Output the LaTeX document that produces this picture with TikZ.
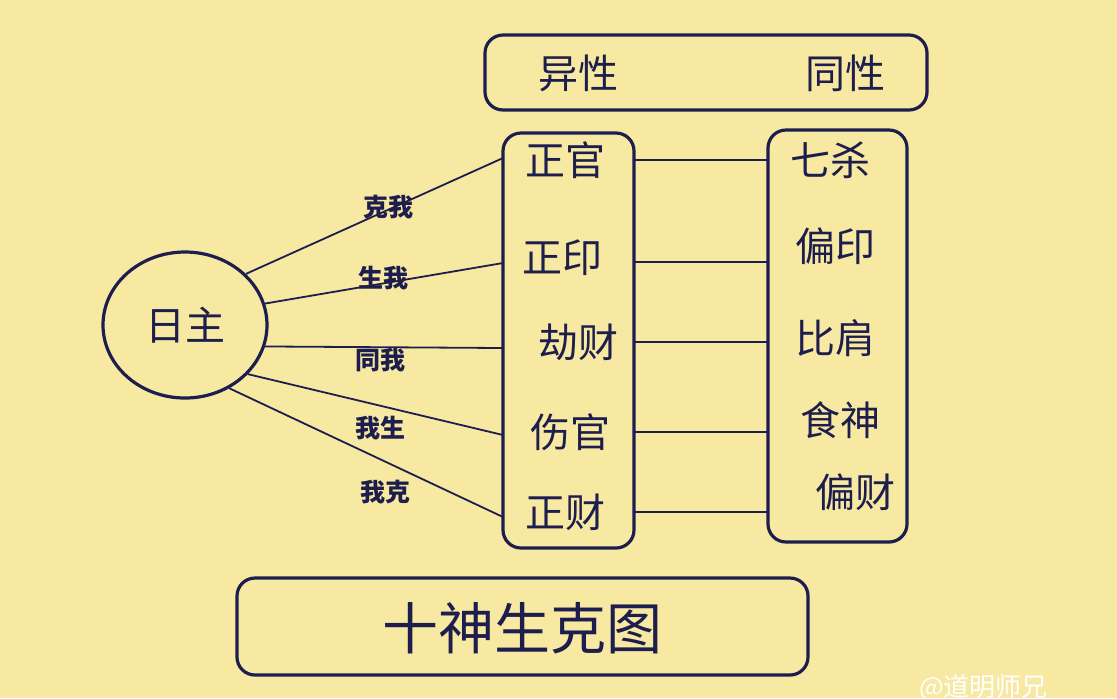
\documentclass[tikz,border=0pt]{standalone}
\usepackage{fontspec}
\newfontfamily\cjk{Noto Sans CJK SC}
\usetikzlibrary{shapes.geometric}
\definecolor{bgyellow}{HTML}{F7E9A2}
\definecolor{ink}{HTML}{1E1E4E}
\tikzset{
  box/.style={draw=ink, line width=1.6pt, rounded corners=9pt},
  god/.style={text=ink, font=\cjk\fontsize{20}{20}\selectfont},
  rel/.style={text=ink, font=\cjk\bfseries\fontsize{12.5}{13}\selectfont},
  link/.style={draw=ink, line width=0.9pt}
}
\begin{document}
\begin{tikzpicture}[x=0.5pt,y=-0.5pt]
    \fill[bgyellow] (0,0) rectangle (1117,698);
    \useasboundingbox (0,0) rectangle (1117,698);
    % top box
    \draw[box] (485,35) rectangle (927,110);
    \node[god] (yi) at (578,73) {异性};
    \node[god] (tong) at (845,73) {同性};
    % columns
    \draw[box] (503,133) rectangle (634,548);
    \draw[box] (768,130) rectangle (907,542);
    \node[god] (zg) at (565,160) {正官};
    \node[god] (zy) at (562,258) {正印};
    \node[god] (jc) at (578,342) {劫财};
    \node[god] (sg) at (570,432) {伤官};
    \node[god] (zc) at (565,512) {正财};
    \node[god] (qs) at (830,160) {七杀};
    \node[god] (py) at (835,246) {偏印};
    \node[god] (bj) at (835,338) {比肩};
    \node[god] (ss) at (840,420) {食神};
    \node[god] (pc) at (855,492) {偏财};
    % day master
    \node[ellipse, draw=ink, line width=1.6pt, minimum width=82pt, minimum height=73pt,
          god] (rz) at (185,325) {日主};
    \foreach \n/\y in {a/158,b/263,c/348,d/435,e/517} {
      \coordinate (L\n) at (503,\y);
    }
    \foreach \n/\y in {a/160,b/262,c/342,d/432,e/512} {
      \coordinate (M\n) at (634,\y);
      \coordinate (R\n) at (768,\y);
      \draw[link] (M\n) -- (R\n);
    }
    \draw[link] (rz.40) -- (La);
    \draw[link] (rz.15) -- (Lb);
    \draw[link] (rz.-15) -- (Lc);
    \draw[link] (rz.-38) -- (Ld);
    \draw[link] (rz.-55) -- (Le);
    \node[rel] (ka) at (388,207) {克我};
    \node[rel] (kb) at (383,278) {生我};
    \node[rel] (kc) at (380,360) {同我};
    \node[rel] (kd) at (380,428) {我生};
    \node[rel] (ke) at (385,492) {我克};
    % title
    \draw[box] (237,578) rectangle (808,675);
    \node[text=ink, font=\cjk\fontsize{28}{28}\selectfont] (title) at (522,628) {十神生克图};
    \node[text=white, font=\cjk\fontsize{13}{13}\selectfont, anchor=west] (wm) at (912,688) {@道明师兄};
\end{tikzpicture}
\end{document}
